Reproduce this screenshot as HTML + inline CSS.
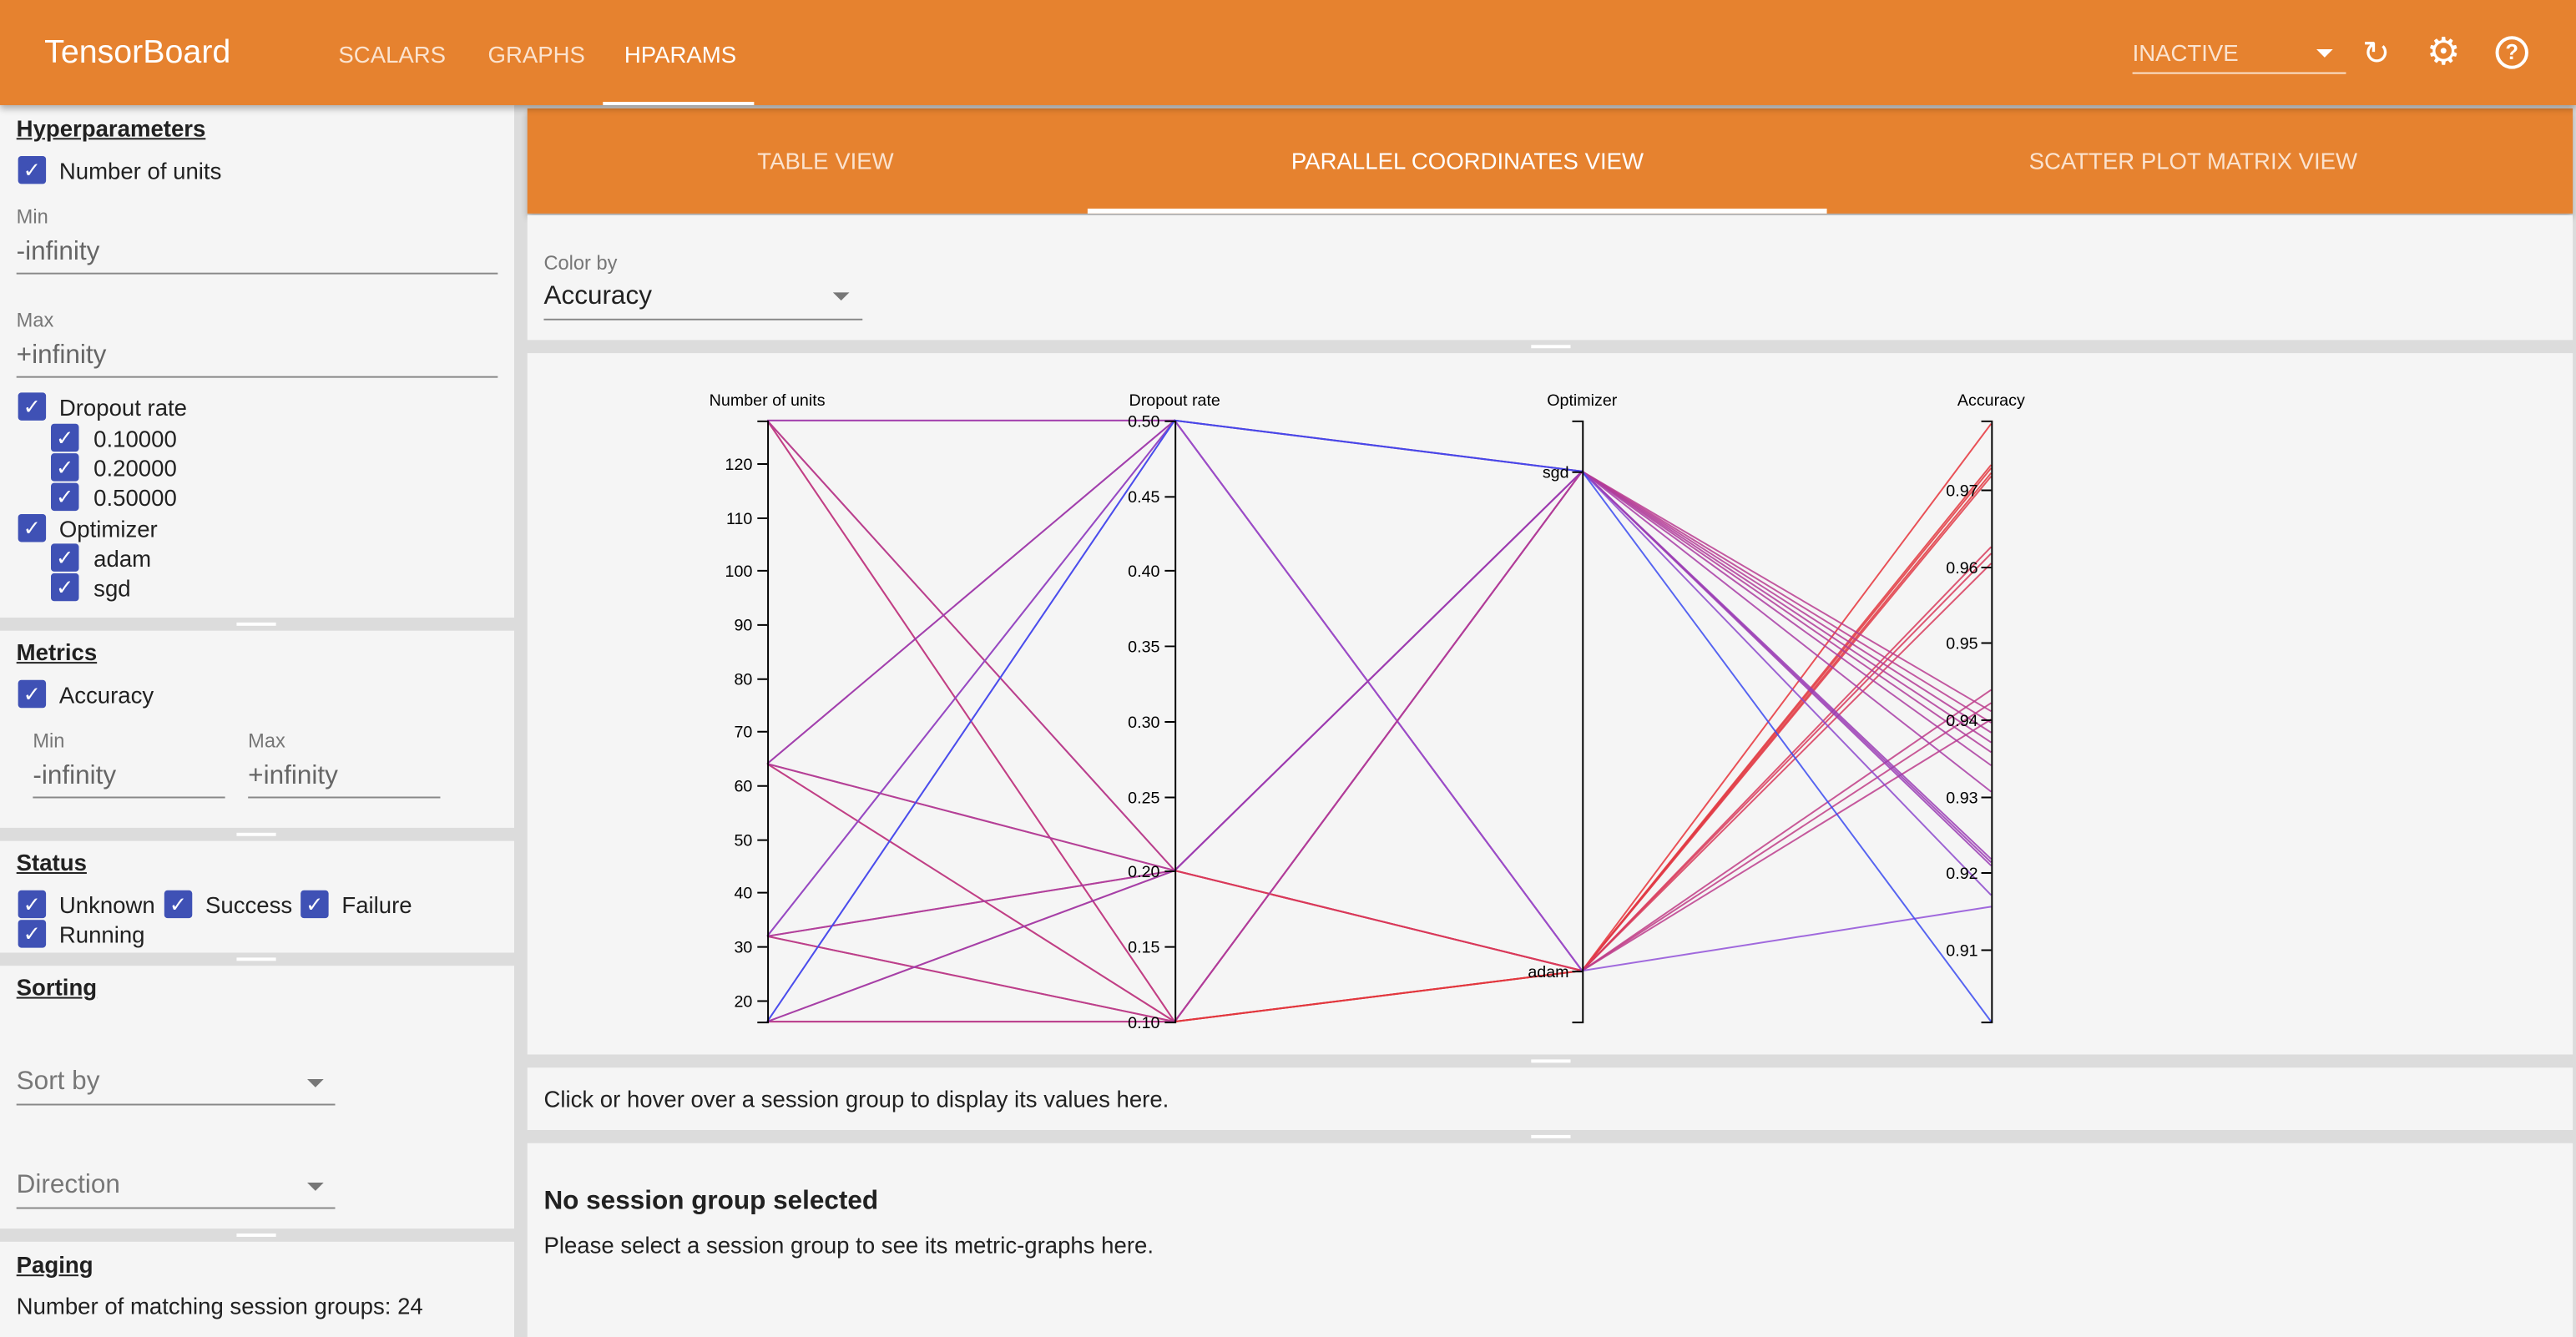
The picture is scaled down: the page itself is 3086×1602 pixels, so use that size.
<!DOCTYPE html>
<html><head><meta charset="utf-8"><style>
html,body{margin:0;padding:0;width:3086px;height:1602px;overflow:hidden;background:#dcdcdc}
#w{position:absolute;left:0;top:0;width:1568px;height:814px;transform:scale(1.96811,1.96806);transform-origin:0 0;font-family:"Liberation Sans",sans-serif;color:#212121}
.a{position:absolute}
.hdr{left:0;top:0;width:1568px;height:64px;background:#e6822f;box-shadow:0 2px 4px rgba(0,0,0,.3);z-index:2}
.nav{color:#fbe3cf;font-size:14px;top:25px}
.side{background:#f5f5f5;left:0;width:313px}
.h{font-weight:bold;text-decoration:underline;font-size:14px}
.cb{width:17px;height:17px;background:#3f51b5;border-radius:2px;color:#fff;font-size:13px;text-align:center;line-height:17px}
.t14{font-size:14px}
.lbl{font-size:12px;color:#777}
.inp{font-size:16px;color:#666}
.ul{height:1px;background:#888}
.pan{background:#f5f5f5;left:321px;width:1245px}
</style></head><body><div id="w">
<div class="a hdr">
<div class="a" style="left:27px;top:21px;font-size:20px;color:#fff">TensorBoard</div>
<div class="a nav" style="left:206px">SCALARS</div>
<div class="a nav" style="left:297px">GRAPHS</div>
<div class="a nav" style="left:380px;color:#fff">HPARAMS</div>
<div class="a" style="left:367px;top:62px;width:92px;height:2px;background:#fff"></div>
<div class="a nav" style="left:1298px;top:24px;color:#fbe3cf">INACTIVE</div>
<div class="a" style="left:1410px;top:30px;border:5px solid transparent;border-top-color:#fff"></div>
<div class="a" style="left:1298px;top:44px;width:130px;height:1px;background:#fbe3cf"></div>
<div class="a" style="left:1438px;top:20px;color:#fff;font-size:20px">&#x21bb;</div>
<div class="a" style="left:1477px;top:18px;color:#fff;font-size:23px">&#x2699;</div>
<div class="a" style="left:1519px;top:22px;width:16px;height:16px;border:2px solid #fff;border-radius:50%;color:#fff;font-size:13px;text-align:center;line-height:16px;font-weight:bold">?</div>
</div>
<!-- sidebar -->
<div class="a side" style="top:64px;height:312px"></div>
<div class="a h" style="left:10px;top:70px">Hyperparameters</div>
<div class="a cb" style="left:11px;top:95px">&#10003;</div><div class="a t14" style="left:36px;top:96px">Number of units</div>
<div class="a lbl" style="left:10px;top:125px">Min</div><div class="a inp" style="left:10px;top:145px">-infinity</div><div class="a ul" style="left:10px;top:166px;width:293px"></div>
<div class="a lbl" style="left:10px;top:188px">Max</div><div class="a inp" style="left:10px;top:208px">+infinity</div><div class="a ul" style="left:10px;top:229px;width:293px"></div>
<div class="a cb" style="left:11px;top:239px">&#10003;</div><div class="a t14" style="left:36px;top:240px">Dropout rate</div>
<div class="a cb" style="left:31px;top:258px">&#10003;</div><div class="a t14" style="left:57px;top:259px">0.10000</div>
<div class="a cb" style="left:31px;top:276px">&#10003;</div><div class="a t14" style="left:57px;top:277px">0.20000</div>
<div class="a cb" style="left:31px;top:294px">&#10003;</div><div class="a t14" style="left:57px;top:295px">0.50000</div>
<div class="a cb" style="left:11px;top:313px">&#10003;</div><div class="a t14" style="left:36px;top:314px">Optimizer</div>
<div class="a cb" style="left:31px;top:331px">&#10003;</div><div class="a t14" style="left:57px;top:332px">adam</div>
<div class="a cb" style="left:31px;top:349px">&#10003;</div><div class="a t14" style="left:57px;top:350px">sgd</div>
<div class="a side" style="top:384px;height:120px"></div>
<div class="a h" style="left:10px;top:389px">Metrics</div>
<div class="a cb" style="left:11px;top:414px">&#10003;</div><div class="a t14" style="left:36px;top:415px">Accuracy</div>
<div class="a lbl" style="left:20px;top:444px">Min</div><div class="a inp" style="left:20px;top:464px">-infinity</div><div class="a ul" style="left:20px;top:485px;width:117px"></div>
<div class="a lbl" style="left:151px;top:444px">Max</div><div class="a inp" style="left:151px;top:464px">+infinity</div><div class="a ul" style="left:151px;top:485px;width:117px"></div>
<div class="a side" style="top:512px;height:68px;overflow:hidden"></div>
<div class="a h" style="left:10px;top:517px">Status</div>
<div class="a cb" style="left:11px;top:542px">&#10003;</div><div class="a t14" style="left:36px;top:543px">Unknown</div>
<div class="a cb" style="left:100px;top:542px">&#10003;</div><div class="a t14" style="left:125px;top:543px">Success</div>
<div class="a cb" style="left:183px;top:542px">&#10003;</div><div class="a t14" style="left:208px;top:543px">Failure</div>
<div class="a" style="left:0;top:560px;width:313px;height:20px;overflow:hidden"><div class="a cb" style="left:11px;top:0px">&#10003;</div><div class="a t14" style="left:36px;top:1px">Running</div></div>
<div class="a side" style="top:588px;height:160px"></div>
<div class="a h" style="left:10px;top:593px">Sorting</div>
<div class="a inp" style="left:10px;top:650px;color:#777">Sort by</div><div class="a" style="left:187px;top:657px;border:5px solid transparent;border-top-color:#777"></div><div class="a ul" style="left:10px;top:672px;width:194px"></div>
<div class="a inp" style="left:10px;top:713px;color:#777">Direction</div><div class="a" style="left:187px;top:720px;border:5px solid transparent;border-top-color:#777"></div><div class="a ul" style="left:10px;top:735px;width:194px"></div>
<div class="a side" style="top:756px;height:58px"></div>
<div class="a h" style="left:10px;top:762px">Paging</div>
<div class="a t14" style="left:10px;top:787px">Number of matching session groups: 24</div>
<!-- right -->
<div class="a" style="left:321px;top:66px;width:1245px;height:64px;background:#e6822f;box-shadow:0 2px 4px rgba(0,0,0,.25)"></div>
<div class="a nav" style="left:461px;top:90px">TABLE VIEW</div>
<div class="a nav" style="left:786px;top:90px;color:#fff">PARALLEL COORDINATES VIEW</div>
<div class="a nav" style="left:1235px;top:90px">SCATTER PLOT MATRIX VIEW</div>
<div class="a" style="left:662px;top:127px;width:450px;height:3px;background:#fff"></div>
<div class="a pan" style="top:131px;height:76px"></div>
<div class="a lbl" style="left:331px;top:153px">Color by</div>
<div class="a" style="left:331px;top:172px;font-size:16px">Accuracy</div>
<div class="a" style="left:507px;top:178px;border:5px solid transparent;border-top-color:#777"></div>
<div class="a ul" style="left:331px;top:194px;width:194px"></div>
<div class="a pan" style="top:215px;height:427px"></div>
<svg class="a" style="left:0;top:0" width="1568" height="814" font-family="Liberation Sans,sans-serif" font-size="10">
<g fill="none" stroke-width="1" stroke-opacity="0.85">
<polyline stroke="#e6323a" points="467,256 715,622 963,591 1212,258"/>
<polyline stroke="#e23840" points="467,465 715,622 963,591 1212,283"/>
<polyline stroke="#e23840" points="467,570 715,622 963,591 1212,285"/>
<polyline stroke="#e23840" points="467,622 715,622 963,591 1212,288"/>
<polyline stroke="#e03a48" points="467,256 715,530 963,591 1212,290"/>
<polyline stroke="#d83a5a" points="467,465 715,530 963,591 1212,333"/>
<polyline stroke="#d83a5a" points="467,570 715,530 963,591 1212,337"/>
<polyline stroke="#d83a5a" points="467,622 715,530 963,591 1212,343"/>
<polyline stroke="#c03c85" points="467,256 715,256 963,591 1212,420"/>
<polyline stroke="#c03c85" points="467,465 715,256 963,591 1212,428"/>
<polyline stroke="#bc3c8c" points="467,570 715,256 963,591 1212,438"/>
<polyline stroke="#9050d8" points="467,622 715,256 963,591 1212,552"/>
<polyline stroke="#b83c90" points="467,256 715,622 963,287 1212,433"/>
<polyline stroke="#b83c90" points="467,465 715,622 963,287 1212,440"/>
<polyline stroke="#b43c96" points="467,570 715,622 963,287 1212,446"/>
<polyline stroke="#b03c9a" points="467,622 715,622 963,287 1212,452"/>
<polyline stroke="#b03c9a" points="467,256 715,530 963,287 1212,458"/>
<polyline stroke="#ac3ca0" points="467,465 715,530 963,287 1212,466"/>
<polyline stroke="#a83ca6" points="467,570 715,530 963,287 1212,482"/>
<polyline stroke="#9a3cb4" points="467,622 715,530 963,287 1212,525"/>
<polyline stroke="#9a3cb4" points="467,256 715,256 963,287 1212,527"/>
<polyline stroke="#9a3cb4" points="467,465 715,256 963,287 1212,523"/>
<polyline stroke="#8c48cc" points="467,570 715,256 963,287 1212,545"/>
<polyline stroke="#3a4af0" points="467,622 715,256 963,287 1212,622"/>
</g>
<g stroke="#000" fill="none" stroke-width="1">
<path d="M461,256.5H467.5V622.5H461"/>
<path d="M709,256.5H715.5V622.5H709"/>
<path d="M957,256.5H963.5V622.5H957"/>
<path d="M1206,256.5H1212.5V622.5H1206"/>
<path d="M461,282.5h6M461,315.5h6M461,347.5h6M461,380.5h6M461,413.5h6M461,445.5h6M461,478.5h6M461,511.5h6M461,543.5h6M461,576.5h6M461,609.5h6"/>
<path d="M709,302.5h6M709,347.5h6M709,393.5h6M709,439.5h6M709,485.5h6M709,530.5h6M709,576.5h6"/>
<path d="M957,287.5h6M957,591.5h6"/>
<path d="M1206,298.5h6M1206,345.5h6M1206,391.5h6M1206,438.5h6M1206,485.5h6M1206,531.5h6M1206,578.5h6"/>
</g>
<g fill="#000" text-anchor="end">
<text x="458" y="286">120</text><text x="458" y="319">110</text><text x="458" y="351">100</text><text x="458" y="384">90</text><text x="458" y="417">80</text><text x="458" y="449">70</text><text x="458" y="482">60</text><text x="458" y="515">50</text><text x="458" y="547">40</text><text x="458" y="580">30</text><text x="458" y="613">20</text>
<text x="706" y="260">0.50</text><text x="706" y="306">0.45</text><text x="706" y="351">0.40</text><text x="706" y="397">0.35</text><text x="706" y="443">0.30</text><text x="706" y="489">0.25</text><text x="706" y="534">0.20</text><text x="706" y="580">0.15</text><text x="706" y="626">0.10</text>
<text x="955" y="291">sgd</text><text x="955" y="595">adam</text>
<text x="1204" y="302">0.97</text><text x="1204" y="349">0.96</text><text x="1204" y="395">0.95</text><text x="1204" y="442">0.94</text><text x="1204" y="489">0.93</text><text x="1204" y="535">0.92</text><text x="1204" y="582">0.91</text>
</g>
<g fill="#000" text-anchor="middle">
<text x="467" y="247">Number of units</text><text x="715" y="247">Dropout rate</text><text x="963" y="247">Optimizer</text><text x="1212" y="247">Accuracy</text>
</g>
</svg>
<div class="a pan" style="top:650px;height:38px"></div>
<div class="a t14" style="left:331px;top:661px">Click or hover over a session group to display its values here.</div>
<div class="a pan" style="top:696px;height:118px"></div>
<div class="a" style="left:331px;top:723px;font-size:16px;font-weight:bold">No session group selected</div>
<div class="a t14" style="left:331px;top:750px">Please select a session group to see its metric-graphs here.</div>
<div class="a" style="left:932px;top:210px;width:24px;height:2px;background:#fff"></div>
<div class="a" style="left:932px;top:645px;width:24px;height:2px;background:#fff"></div>
<div class="a" style="left:932px;top:691px;width:24px;height:2px;background:#fff"></div>
<div class="a" style="left:144px;top:379px;width:24px;height:2px;background:#fff"></div>
<div class="a" style="left:144px;top:507px;width:24px;height:2px;background:#fff"></div>
<div class="a" style="left:144px;top:583px;width:24px;height:2px;background:#fff"></div>
<div class="a" style="left:144px;top:751px;width:24px;height:2px;background:#fff"></div>
</div></body></html>
